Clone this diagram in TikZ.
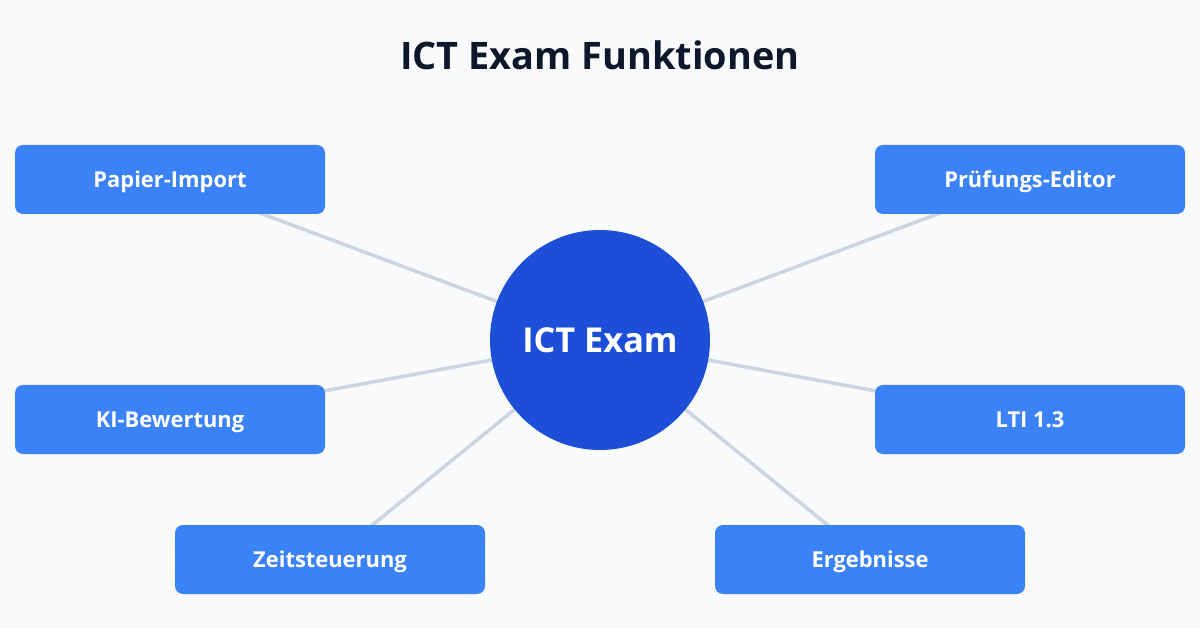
\documentclass[tikz,border=0pt]{standalone}
\usepackage{fontspec}
\setmainfont{Open Sans}
\usetikzlibrary{backgrounds}
\definecolor{bgc}{HTML}{F8FAFC}
\definecolor{titlec}{HTML}{0F172A}
\definecolor{boxc}{HTML}{3B82F6}
\definecolor{hubc}{HTML}{1D4ED8}
\definecolor{linec}{HTML}{CBD5E1}
\begin{document}
\begin{tikzpicture}[x=1pt,y=-1pt,
  featbox/.style={rectangle, rounded corners=8pt, fill=boxc, minimum width=310pt, minimum height=69pt, inner sep=0pt, text=white, font=\fontsize{21.9}{26}\selectfont\bfseries, text height=15.6pt, text depth=0pt},
  hub/.style={circle, fill=hubc, minimum size=220pt, inner sep=0pt, text=white, font=\fontsize{34.3}{40}\selectfont\bfseries, text height=24.5pt, text depth=0pt},
  link/.style={draw=linec, line width=3.5pt}]
\useasboundingbox (0,0) rectangle (1200,628);
\node[text=titlec, font=\fontsize{37.9}{44}\selectfont\bfseries, text height=27.1pt, text depth=0pt, inner sep=0pt] (title) at (600,55.5) {ICT Exam Funktionen};
\node[featbox] (papier) at (170,179.5) {Papier-Import};
\node[featbox] (editor) at (1030,179.5) {Prüfungs-Editor};
\node[featbox] (ki) at (170,419.5) {KI-Bewertung};
\node[featbox] (lti) at (1030,419.5) {LTI 1.3};
\node[featbox] (zeit) at (330,559.5) {Zeitsteuerung};
\node[featbox] (erg) at (870,559.5) {Ergebnisse};
\node[hub] (hubn) at (600,340) {ICT Exam};
\begin{scope}[on background layer]
\fill[bgc] (0,0) rectangle (1200,628);
\foreach \n in {papier,editor,ki,lti,zeit,erg}{
  \path[link] (hubn.center) -- (\n.center);
}
\end{scope}
\end{tikzpicture}
\end{document}
